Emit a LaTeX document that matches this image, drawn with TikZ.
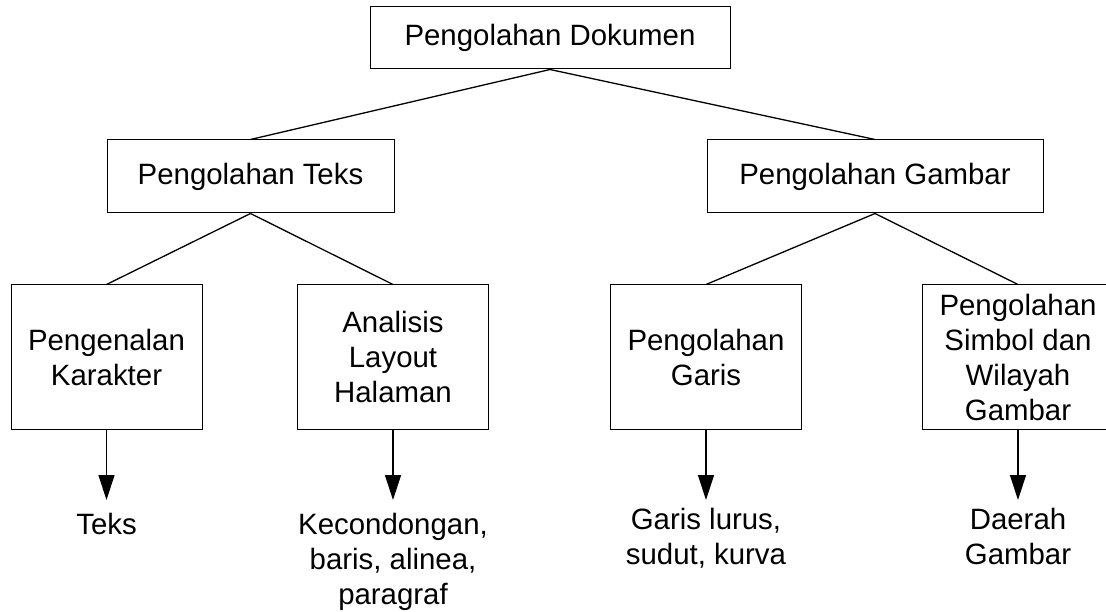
\documentclass[tikz,border=0pt]{standalone}
\usepackage{fontspec}
\setmainfont{Liberation Sans}
\usetikzlibrary{arrows.meta}

\begin{document}
\begin{tikzpicture}[x=1pt, y=-1pt,
        every node/.style={font=\fontsize{29.4}{35}\selectfont},
        kotak/.style={draw, line width=1pt, align=center, inner sep=0pt},
        kecil/.style={kotak, minimum width=191pt, minimum height=144pt},
        hasil/.style={align=center, anchor=north, inner xsep=0pt},
        cabang/.style={line width=1.3pt},
        panah/.style={line width=1.3pt, -{Triangle[width=16pt, length=25pt]}}]

            \useasboundingbox (0,0) rectangle (1106,612);

            \node (dok) at (550,38) [kotak, minimum width=360pt, minimum height=62pt] {Pengolahan Dokumen};
            \node (olahteks) at (250.5,176.5) [kotak, minimum width=287pt, minimum height=73pt] {Pengolahan Teks};
            \node (olahgambar) at (875,176.5) [kotak, minimum width=336pt, minimum height=73pt] {Pengolahan Gambar};

            \node (karakter) at (106.5,357) [kecil] {Pengenalan\\Karakter};
            \node (layout) at (393,357) [kecil] {Analisis\\Layout\\Halaman};
            \node (garis) at (706,357) [kecil] {Pengolahan\\Garis};
            \node (simbol) at (1018,357) [kecil] {Pengolahan\\Simbol dan\\Wilayah\\Gambar};

            \node (teks) at (106.5,500) [hasil, inner ysep=13pt] {Teks};
            \node (paragraf) at (393,500) [hasil, inner ysep=13pt] {Kecondongan,\\baris, alinea,\\paragraf};
            \node (kurva) at (706,500) [hasil, inner ysep=8pt] {Garis lurus,\\sudut, kurva};
            \node (daerah) at (1018,500) [hasil, inner ysep=8pt] {Daerah\\Gambar};

            \foreach \a/\b in {dok/olahteks, dok/olahgambar, olahteks/karakter, olahteks/layout, olahgambar/garis, olahgambar/simbol} {
                \draw[cabang] (\a.south) -- (\b.north);
            }

            \foreach \a/\b in {karakter/teks, layout/paragraf, garis/kurva, simbol/daerah} {
                \draw[panah] (\a) -- (\b);
            }
        \end{tikzpicture}
\end{document}
